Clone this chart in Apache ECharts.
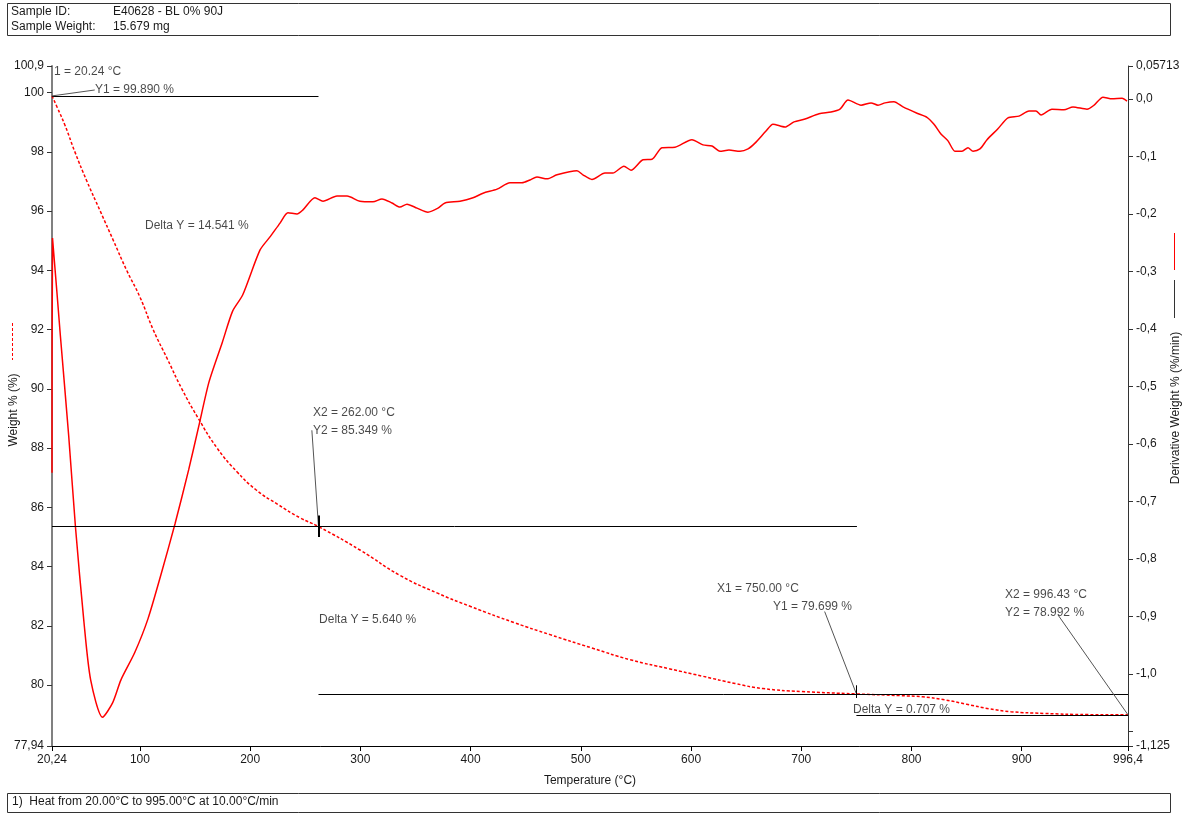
<!DOCTYPE html>
<html>
<head>
<meta charset="utf-8">
<script src="https://cdn.jsdelivr.net/npm/echarts@6/dist/echarts.min.js"></script>
<style>
html,body{margin:0;padding:0;background:#fff;}
#chart{width:1196px;height:814px;}
</style>
</head>
<body>
<div id="chart"></div>
<script>
// ---- Data ----
const weightT = [20.24, 25, 32, 41, 52, 64, 76, 88, 100, 112, 125, 138, 153, 170, 188, 205, 225, 245, 262, 300, 336, 370, 400, 440, 472, 510, 545, 580, 610, 640, 665, 700, 750, 790, 810, 830, 850, 870, 890, 920, 960, 996.4];
const weightW = [99.89, 99.5, 98.9, 98.0, 97.0, 96.0, 95.0, 94.0, 93.1, 92.0, 91.0, 90.0, 89.0, 88.0, 87.2, 86.6, 86.1, 85.65, 85.349, 84.55, 83.7, 83.1, 82.65, 82.1, 81.7, 81.25, 80.85, 80.55, 80.3, 80.05, 79.88, 79.78, 79.699, 79.64, 79.6, 79.5, 79.35, 79.2, 79.1, 79.04, 79.0, 78.992];

const derivT = [20.24, 20.7, 27.8, 35.4, 41.6, 49.2, 55.3, 66.1, 75.2, 82.8, 95.2, 107.3, 119.7, 131.8, 144.2, 153.4, 162.7, 174.8, 184.1, 193.2, 208.9, 218.0, 227.1, 234.3, 242.5, 247.9, 258.8, 266.1, 278.8, 287.9, 299.6, 311.4, 319.6, 328.7, 335.9, 342.3, 351.4, 361.3, 370.4, 376.8, 390.4, 402.2, 411.3, 424.0, 435.7, 446.6, 453.9, 460.2, 469.3, 478.4, 496.5, 501.9, 510.1, 521.9, 529.1, 539.1, 545.5, 556.4, 564.6, 573.6, 585.4, 600.8, 610.8, 619.0, 626.2, 634.4, 644.4, 651.7, 658.0, 668.0, 674.3, 685.2, 693.4, 703.4, 716.1, 727.0, 735.1, 742.4, 754.2, 763.3, 769.6, 776.0, 784.1, 792.3, 805.0, 814.0, 820.4, 826.7, 833.1, 839.4, 845.8, 851.2, 855.8, 862.1, 868.5, 878.4, 887.5, 897.5, 906.6, 912.9, 917.5, 927.4, 938.3, 946.5, 959.2, 965.6, 973.7, 981.9, 991.0, 995.5];
const derivV = [-0.650, -0.242, -0.411, -0.586, -0.746, -0.909, -1.010, -1.075, -1.050, -1.010, -0.963, -0.904, -0.823, -0.739, -0.645, -0.569, -0.492, -0.423, -0.369, -0.341, -0.263, -0.240, -0.216, -0.198, -0.200, -0.193, -0.172, -0.178, -0.169, -0.169, -0.178, -0.179, -0.174, -0.181, -0.188, -0.183, -0.190, -0.197, -0.190, -0.181, -0.178, -0.172, -0.164, -0.157, -0.146, -0.146, -0.141, -0.136, -0.139, -0.132, -0.125, -0.132, -0.140, -0.129, -0.129, -0.117, -0.124, -0.106, -0.105, -0.085, -0.084, -0.071, -0.080, -0.082, -0.091, -0.089, -0.091, -0.087, -0.077, -0.056, -0.044, -0.049, -0.040, -0.035, -0.026, -0.023, -0.018, -0.002, -0.011, -0.007, -0.011, -0.007, -0.005, -0.014, -0.025, -0.032, -0.044, -0.061, -0.073, -0.091, -0.091, -0.085, -0.091, -0.087, -0.071, -0.052, -0.033, -0.030, -0.021, -0.021, -0.028, -0.018, -0.019, -0.014, -0.018, -0.011, 0.003, 0.000, 0.001, -0.004];

const xTicks = [20.24, 100, 200, 300, 400, 500, 600, 700, 800, 900, 996.4];
const leftTicks = [77.94, 80, 82, 84, 86, 88, 90, 92, 94, 96, 98, 100, 100.9];
const rightTicks = [-1.125, -1.1, -1.0, -0.9, -0.8, -0.7, -0.6, -0.5, -0.4, -0.3, -0.2, -0.1, 0.0, 0.05713];
const rightLabels = ['-1,125', '', '-1,0', '-0,9', '-0,8', '-0,7', '-0,6', '-0,5', '-0,4', '-0,3', '-0,2', '-0,1', '0,0', '0,05713'];

// Analysis annotations (temperature, weight %)
const hLines = [[20.24, 262, 99.89], [20.24, 750.5, 85.349], [262, 996.4, 79.699], [750, 996.4, 78.992]];
const leaders = [[[20.24, 99.89], [59, 100.09]], [[256.0, 88.6], [262, 85.349]], [[721.2, 82.48], [750, 79.699]], [[933.0, 82.36], [996.4, 78.992]]];
const markerTicks = [[262, 85.72, 85.0, 2], [750, 79.99, 79.56, 1]];
const noteTexts = ['1 = 20.24 °C', 'Y1 = 99.890 %', 'Delta Y = 14.541 %', 'X2 = 262.00 °C', 'Y2 = 85.349 %', 'Delta Y = 5.640 %', 'X1 = 750.00 °C', 'Y1 = 79.699 %', 'Delta Y = 0.707 %', 'X2 = 996.43 °C', 'Y2 = 78.992 %'];
const noteT = [22.0, 59.2, 104.6, 257.0, 257.0, 262.5, 623.5, 674.3, 746.9, 884.8, 884.8];
const noteW = [100.70, 100.09, 95.5, 89.19, 88.58, 82.2, 83.24, 82.63, 79.16, 83.04, 82.43];

// ---- Chart ----
const FONT = 'Liberation Sans, Arial, sans-serif';
const TXT = '#1a1a1a';
const chart = echarts.init(document.getElementById('chart'), null, {renderer: 'canvas'});

const fmtComma = v => String(v).replace('.', ',');

const markLineData = [];
hLines.forEach(h => markLineData.push([{coord: [h[0], h[2]], lineStyle: {color: '#000', width: 1, type: 'solid'}}, {coord: [h[1], h[2]]}]));
leaders.forEach(l => markLineData.push([{coord: l[0], lineStyle: {color: '#555', width: 1, type: 'solid'}}, {coord: l[1]}]));
markerTicks.forEach(m => markLineData.push([{coord: [m[0], m[1]], lineStyle: {color: '#000', width: m[3], type: 'solid'}}, {coord: [m[0], m[2]]}]));

const option = {
  animation: false,
  backgroundColor: '#fff',
  grid: {left: 52, right: 68, top: 66, bottom: 68, containLabel: false},
  xAxis: {
    type: 'value', min: 20.24, max: 996.4,
    name: 'Temperature (°C)', nameLocation: 'middle', nameGap: 29,
    nameTextStyle: {fontFamily: FONT, fontSize: 12, color: TXT},
    axisLine: {show: true, onZero: false, lineStyle: {color: '#000', width: 1}},
    axisTick: {show: true, length: 5, lineStyle: {color: '#000'}, customValues: xTicks},
    axisLabel: {fontFamily: FONT, fontSize: 12, color: TXT, margin: 8, customValues: xTicks, formatter: v => fmtComma(v)},
    splitLine: {show: false}
  },
  yAxis: [{
    type: 'value', min: 77.94, max: 100.9, position: 'left',
    axisLine: {show: true, onZero: false, lineStyle: {color: '#808080', width: 2}},
    axisTick: {show: true, length: 5, lineStyle: {color: '#333'}, customValues: leftTicks},
    axisLabel: {fontFamily: FONT, fontSize: 12, color: TXT, margin: 8, customValues: leftTicks, formatter: v => fmtComma(v)},
    splitLine: {show: false}
  }, {
    type: 'value', min: -1.125, max: 0.05713, position: 'right',
    axisLine: {show: true, onZero: false, lineStyle: {color: '#333', width: 1}},
    axisTick: {show: true, length: 5, lineStyle: {color: '#333'}, customValues: rightTicks},
    axisLabel: {fontFamily: FONT, fontSize: 12, color: TXT, margin: 8, customValues: rightTicks,
      formatter: v => { const i = rightTicks.findIndex(t => Math.abs(t - v) < 1e-6); return i >= 0 ? rightLabels[i] : ''; }},
    splitLine: {show: false}
  }],
  series: [{
    name: 'Weight', type: 'line', yAxisIndex: 0,
    data: weightT.map((t, i) => [t, weightW[i]]),
    showSymbol: false, smooth: 0.5,
    lineStyle: {color: '#ff0000', width: 1.5, type: [3, 2]},
    markLine: {silent: true, symbol: ['none', 'none'], label: {show: false}, animation: false,
      lineStyle: {type: 'solid'}, data: markLineData},
    z: 3
  }, {
    name: 'Derivative', type: 'line', yAxisIndex: 1,
    data: derivT.map((t, i) => [t, derivV[i]]),
    showSymbol: false, smooth: 0.25,
    lineStyle: {color: '#ff0000', width: 1.5},
    z: 3
  }, {
    name: 'Notes', type: 'scatter', yAxisIndex: 0,
    data: noteT.map((t, i) => [t, noteW[i], noteTexts[i]]),
    symbolSize: 0, silent: true,
    label: {show: true, position: 'right', distance: 0, fontFamily: FONT, fontSize: 12, color: TXT,
      formatter: p => p.data[2]},
    z: 5
  }],
  graphic: [
    {type: 'rect', shape: {x: 7.5, y: 3.5, width: 1163, height: 32}, style: {fill: 'none', stroke: '#333', lineWidth: 1}},
    {type: 'text', x: 11, y: 12, style: {text: 'Sample ID:', font: '12px ' + FONT, fill: TXT, verticalAlign: 'middle'}},
    {type: 'text', x: 113, y: 12, style: {text: 'E40628 - BL 0% 90J', font: '12px ' + FONT, fill: TXT, verticalAlign: 'middle'}},
    {type: 'text', x: 11, y: 27, style: {text: 'Sample Weight:', font: '12px ' + FONT, fill: TXT, verticalAlign: 'middle'}},
    {type: 'text', x: 113, y: 27, style: {text: '15.679 mg', font: '12px ' + FONT, fill: TXT, verticalAlign: 'middle'}},
    {type: 'rect', shape: {x: 7.5, y: 793.5, width: 1163, height: 19}, style: {fill: 'none', stroke: '#333', lineWidth: 1}},
    {type: 'text', x: 12, y: 802, style: {text: '1)  Heat from 20.00°C to 995.00°C at 10.00°C/min', font: '12px ' + FONT, fill: TXT, verticalAlign: 'middle'}},
    {type: 'text', x: 14, y: 410, rotation: Math.PI / 2, style: {text: 'Weight % (%)', font: '12px ' + FONT, fill: TXT, align: 'center', verticalAlign: 'middle'}},
    {type: 'line', shape: {x1: 12.5, y1: 323, x2: 12.5, y2: 360}, style: {stroke: '#ff0000', lineWidth: 1, lineDash: [3, 2]}},
    {type: 'text', x: 1176, y: 408, rotation: Math.PI / 2, style: {text: 'Derivative Weight % (%/min)', font: '12px ' + FONT, fill: TXT, align: 'center', verticalAlign: 'middle'}},
    {type: 'line', shape: {x1: 1174.5, y1: 233, x2: 1174.5, y2: 270}, style: {stroke: '#ff0000', lineWidth: 1}},
    {type: 'line', shape: {x1: 1174.5, y1: 280, x2: 1174.5, y2: 318}, style: {stroke: '#333', lineWidth: 1}}
  ]
};
chart.setOption(option);
</script>
</body>
</html>
